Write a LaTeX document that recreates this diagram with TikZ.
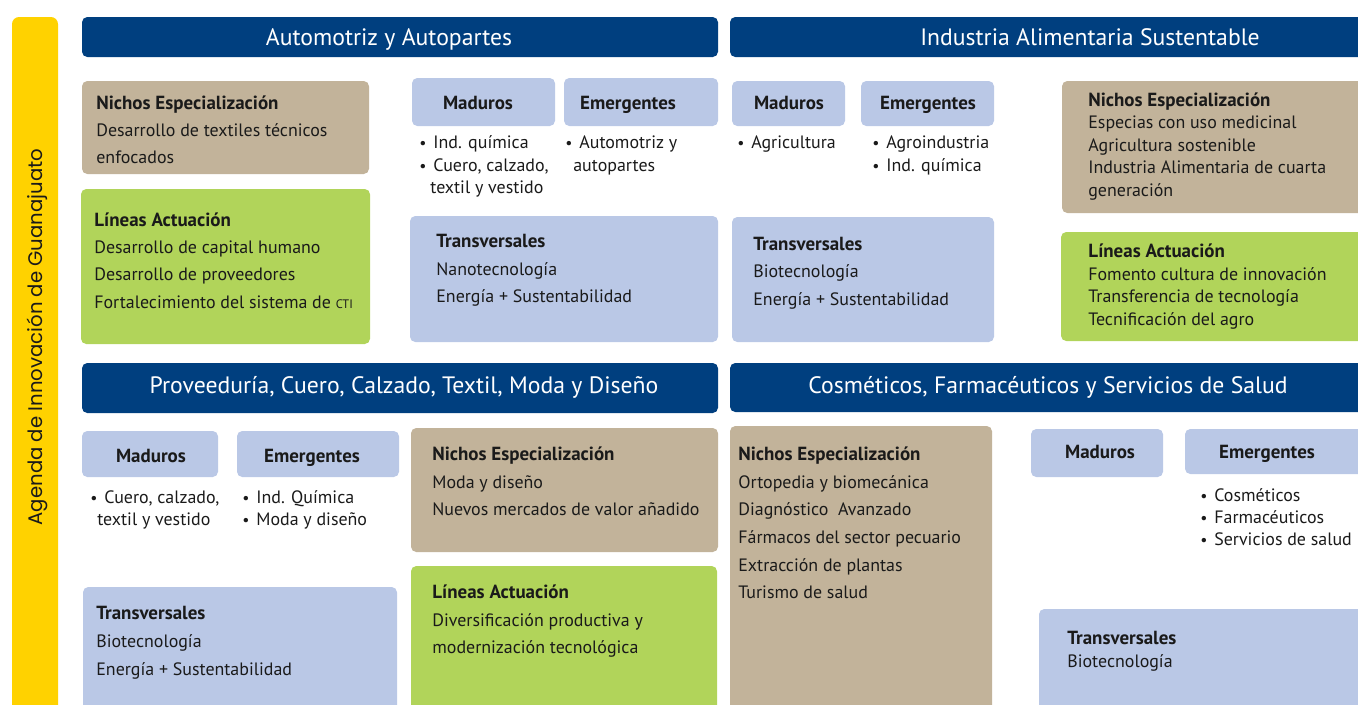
\documentclass[tikz,border=0pt]{standalone}
\usepackage{fontspec}
\setmainfont{PT Sans}
\newfontfamily\geo{Poppins}
\usetikzlibrary{fit}
\definecolor{amarillo}{HTML}{FFD200}
\definecolor{marino}{HTML}{003F7F}
\definecolor{arena}{HTML}{C2B39A}
\definecolor{pasto}{HTML}{B1D45A}
\definecolor{cielo}{HTML}{BAC8E6}
\definecolor{tinta}{HTML}{1A1A1A}
\newcommand{\bul}{\makebox[0.28cm][l]{\small\textbullet}}
\tikzset{
  caja/.style={rounded corners=3pt, inner sep=0pt, draw=none},
  hdr/.style={caja, fill=marino},
  nicho/.style={caja, fill=arena},
  linea/.style={caja, fill=pasto},
  azul/.style={caja, fill=cielo},
  txt/.style={anchor=mid west, inner sep=0pt, yshift=-0.04cm, text=tinta, font=\fontsize{10.2}{12}\selectfont},
  tit/.style={txt, font=\fontsize{10.8}{12}\selectfont\bfseries},
  cen/.style={tit, anchor=mid},
  htxt/.style={anchor=mid, inner sep=0pt, yshift=-0.07cm, text=white, font=\fontsize{13.5}{15}\selectfont}
}
\begin{document}
\begin{tikzpicture}[x=0.02cm, y=-0.02cm]
  \useasboundingbox (0,0) rectangle (1358,704);
  \clip (0,0) rectangle (1358,704);
  % barra lateral
  \node[caja, fill=amarillo, rounded corners=4pt, fit={(12,17) (58,730)}] (bar) {};
  \node[rotate=90, inner sep=0pt, text=tinta, font=\geo\fontsize{11.2}{12}\selectfont] (ag) at (37,337) {Agenda de Innovación de Guanajuato};
  % encabezados
  \node[hdr, fit={(82,17) (718,57)}] (h1) {};
  \node[htxt] (h1t) at (389,38) {Automotriz y Autopartes};
  \node[hdr, fit={(730,17) (1370,57)}] (h2) {};
  \node[htxt] (h2t) at (1090,38) {Industria Alimentaria Sustentable};
  \node[hdr, fit={(82,363) (718,413)}] (h3) {};
  \node[htxt] (h3t) at (404,386) {Proveeduría, Cuero, Calzado, Textil, Moda y Diseño};
  \node[hdr, fit={(730,363) (1370,412)}] (h4) {};
  \node[htxt] (h4t) at (1048,386) {Cosméticos, Farmacéuticos y Servicios de Salud};
  % Automotriz y Autopartes
  \node[nicho, fit={(82,81) (369,174)}] (n1) {};
  \node[tit] (n1a) at (96,103) {Nichos Especialización};
  \node[txt] (n1b) at (96,130) {Desarrollo de textiles técnicos};
  \node[txt] (n1c) at (96,157) {enfocados};
  \node[linea, fit={(81,189) (370,344)}] (l1) {};
  \node[tit] (l1a) at (94,220) {Líneas Actuación};
  \node[txt] (l1b) at (94,247) {Desarrollo de capital humano};
  \node[txt] (l1c) at (94,274) {Desarrollo de proveedores};
  \node[txt] (l1d) at (94,302) {Fortalecimiento del sistema de {\scriptsize CTI}};
  \node[azul, fit={(412,78) (555,126)}] (m1) {};
  \node[cen] (m1t) at (478,103) {Maduros};
  \node[azul, fit={(564,78) (718,126)}] (e1) {};
  \node[cen] (e1t) at (628,103) {Emergentes};
  \node[txt] (b1a) at (419,142) {\bul Ind. química};
  \node[txt] (b1b) at (419,165) {\bul Cuero, calzado,};
  \node[txt] (b1c) at (430,187) {textil y vestido};
  \node[txt] (b1d) at (565,142) {\bul Automotriz y};
  \node[txt] (b1e) at (573,165) {autopartes};
  \node[azul, fit={(410,216) (718,342)}] (t1) {};
  \node[tit] (t1a) at (436,241) {Transversales};
  \node[txt] (t1b) at (436,269) {Nanotecnología};
  \node[txt] (t1c) at (436,296) {Energía + Sustentabilidad};
  % Industria Alimentaria Sustentable
  \node[azul, fit={(732,81) (845,126)}] (m2) {};
  \node[cen] (m2t) at (789,103) {Maduros};
  \node[azul, fit={(861,81) (994,126)}] (e2) {};
  \node[cen] (e2t) at (928,103) {Emergentes};
  \node[txt] (b2a) at (737,142) {\bul Agricultura};
  \node[txt] (b2b) at (872,142) {\bul Agroindustria};
  \node[txt] (b2c) at (872,165) {\bul Ind. química};
  \node[azul, fit={(732,217) (994,342)}] (t2) {};
  \node[tit] (t2a) at (753,244) {Transversales};
  \node[txt] (t2b) at (753,271) {Biotecnología};
  \node[txt] (t2c) at (753,299) {Energía + Sustentabilidad};
  \node[nicho, fit={(1062,81) (1370,213)}] (n2) {};
  \node[tit] (n2a) at (1088,100) {Nichos Especialización};
  \node[txt] (n2b) at (1088,122) {Especias con uso medicinal};
  \node[txt] (n2c) at (1088,145) {Agricultura sostenible};
  \node[txt] (n2d) at (1088,167) {Industria Alimentaria de cuarta};
  \node[txt] (n2e) at (1088,190) {generación};
  \node[linea, fit={(1061,232) (1370,341)}] (l2) {};
  \node[tit] (l2a) at (1088,251) {Líneas Actuación};
  \node[txt] (l2b) at (1088,274) {Fomento cultura de innovación};
  \node[txt] (l2c) at (1088,296) {Transferencia de tecnología};
  \node[txt] (l2d) at (1088,319) {Tecnificación del agro};
  % Proveeduria, Cuero, Calzado...
  \node[azul, fit={(82,431) (218,477)}] (m3) {};
  \node[cen] (m3t) at (151,456) {Maduros};
  \node[azul, fit={(237,431) (399,477)}] (e3) {};
  \node[cen] (e3t) at (312,456) {Emergentes};
  \node[txt] (b3a) at (90,497) {\bul Cuero, calzado,};
  \node[txt] (b3b) at (97,519) {textil y vestido};
  \node[txt] (b3c) at (242,497) {\bul Ind. Química};
  \node[txt] (b3d) at (242,519) {\bul Moda y diseño};
  \node[nicho, fit={(411,428) (718,552)}] (n3) {};
  \node[tit] (n3a) at (432,454) {Nichos Especialización};
  \node[txt] (n3b) at (432,482) {Moda y diseño};
  \node[txt] (n3c) at (432,509) {Nuevos mercados de valor añadido};
  \node[linea, fit={(411,566) (717,730)}] (l3) {};
  \node[tit] (l3a) at (432,592) {Líneas Actuación};
  \node[txt] (l3b) at (432,620) {Diversificación productiva y};
  \node[txt] (l3c) at (432,647) {modernización tecnológica};
  \node[azul, fit={(83,587) (397,730)}] (t3) {};
  \node[tit] (t3a) at (96,613) {Transversales};
  \node[txt] (t3b) at (96,641) {Biotecnología};
  \node[txt] (t3c) at (96,669) {Energía + Sustentabilidad};
  % Cosmeticos, Farmaceuticos...
  \node[nicho, fit={(730,426) (992,730)}] (n4) {};
  \node[tit] (n4a) at (738,454) {Nichos Especialización};
  \node[txt] (n4b) at (738,482) {Ortopedia y biomecánica};
  \node[txt] (n4c) at (738,509) {Diagnóstico\ \ Avanzado};
  \node[txt] (n4d) at (738,537) {Fármacos del sector pecuario};
  \node[txt] (n4e) at (738,565) {Extracción de plantas};
  \node[txt] (n4f) at (738,592) {Turismo de salud};
  \node[azul, fit={(1031,429) (1163,477)}] (m4) {};
  \node[cen] (m4t) at (1100,452) {Maduros};
  \node[azul, fit={(1185,429) (1370,474)}] (e4) {};
  \node[cen] (e4t) at (1267,452) {Emergentes};
  \node[txt] (b4a) at (1200,495) {\bul Cosméticos};
  \node[txt] (b4b) at (1200,517) {\bul Farmacéuticos};
  \node[txt] (b4c) at (1200,539) {\bul Servicios de salud};
  \node[azul, fit={(1039,609) (1370,730)}] (t4) {};
  \node[tit] (t4a) at (1067,638) {Transversales};
  \node[txt] (t4b) at (1067,661) {Biotecnología};
\end{tikzpicture}
\end{document}
